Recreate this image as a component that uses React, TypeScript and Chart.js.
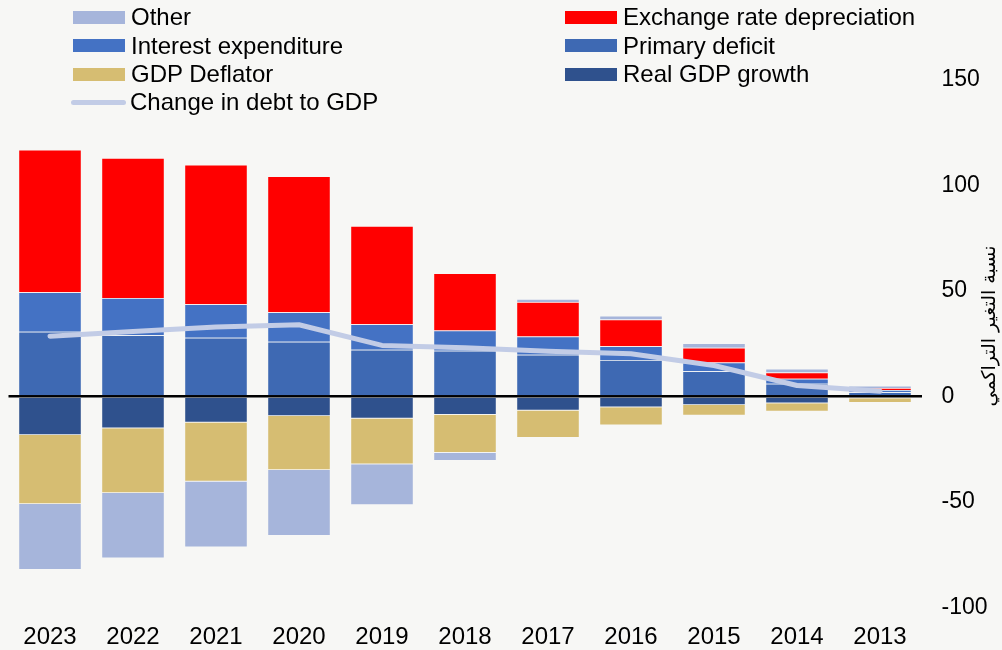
import React, { useEffect, useRef } from "react";
import { Chart, registerables } from "chart.js";

Chart.register(...registerables);

const years = ["2023", "2022", "2021", "2020", "2019", "2018", "2017", "2016", "2015", "2014", "2013"];
const primaryDeficit = [30.7, 29.0, 27.8, 26.0, 22.2, 21.7, 19.8, 17.3, 12.0, 6.0, 2.0];
const realGdpGrowth = [-18.2, -15.0, -12.3, -9.3, -10.4, -8.7, -6.6, -5.1, -4.0, -3.2, -0.8];
const interestExpenditure = [18.7, 17.7, 15.9, 13.9, 12.0, 9.6, 8.6, 6.5, 4.1, 2.4, 1.1];
const gdpDeflator = [-32.7, -30.7, -28.0, -25.5, -21.7, -17.9, -13.0, -8.5, -5.0, -3.9, -2.2];
const exchangeRate = [67.5, 66.3, 66.1, 64.5, 46.6, 27.1, 16.4, 12.7, 7.0, 3.0, 0.9];
const other = [-31.2, -31.0, -31.2, -31.2, -19.3, -3.8, 1.4, 1.8, 2.1, 1.8, 1.1];
const changeInDebt = [28.6, 30.8, 32.9, 34.0, 24.2, 23.1, 21.5, 20.3, 14.7, 5.2, 2.5];
const yTicks = [150, 100, 50, 0, -50, -100];
const axisTitle = "نسبة التغير التراكمي";

const C_OTHER = "#A6B5DB";
const C_EXCH = "#FF0000";
const C_INT = "#4472C4";
const C_PRIM = "#3E69B3";
const C_REAL = "#2F518D";
const C_DEFL = "#D6BD72";
const C_LINE = "#C2CCE6";
const BG = "#F7F7F5";
const FONT = '"Liberation Sans", Arial, sans-serif';

const legendItems = [
  { label: "Other", color: C_OTHER, x: 73, y: 17, type: "box" },
  { label: "Exchange rate depreciation", color: C_EXCH, x: 565, y: 17, type: "box" },
  { label: "Interest expenditure", color: C_INT, x: 73, y: 45.5, type: "box" },
  { label: "Primary deficit", color: C_PRIM, x: 565, y: 45.5, type: "box" },
  { label: "GDP Deflator", color: C_DEFL, x: 73, y: 74, type: "box" },
  { label: "Real GDP growth", color: C_REAL, x: 565, y: 74, type: "box" },
  { label: "Change in debt to GDP", color: C_LINE, x: 73, y: 102, type: "line" },
];

const titlePlugin = {
  id: "rightTitle",
  afterDraw(chart: any) {
    const ctx = chart.ctx;
    ctx.save();
    ctx.translate(990, 326);
    ctx.rotate(-Math.PI / 2);
    ctx.textAlign = "center";
    ctx.textBaseline = "middle";
    ctx.fillStyle = "#000";
    ctx.font = '19px "DejaVu Sans", sans-serif';
    ctx.fillText(axisTitle, 0, 0);
    ctx.restore();
  },
};

export default function App() {
  const ref = useRef<HTMLCanvasElement | null>(null);

  useEffect(() => {
    if (!ref.current) return;
    const barDs = (label: string, data: number[], color: string) => ({
      type: "bar" as const,
      label,
      data,
      backgroundColor: color,
      borderColor: "rgba(255,255,255,0.18)",
      borderWidth: 0.75,
      stack: "bars",
      order: 1,
    });
    const chart = new Chart(ref.current, {
      type: "bar",
      data: {
        labels: years,
        datasets: [
          {
            type: "line" as const,
            label: "Change in debt to GDP",
            data: changeInDebt,
            borderColor: C_LINE,
            backgroundColor: C_LINE,
            borderWidth: 5,
            pointRadius: 0,
            tension: 0,
            borderCapStyle: "round",
            borderJoinStyle: "round",
            stack: "line",
            order: 0,
          } as any,
          barDs("Primary deficit", primaryDeficit, C_PRIM),
          barDs("Real GDP growth", realGdpGrowth, C_REAL),
          barDs("Interest expenditure", interestExpenditure, C_INT),
          barDs("GDP Deflator", gdpDeflator, C_DEFL),
          barDs("Exchange rate depreciation", exchangeRate, C_EXCH),
          barDs("Other", other, C_OTHER),
        ],
      },
      options: {
        animation: false,
        responsive: false,
        maintainAspectRatio: false,
        layout: { padding: { left: 8.5, top: 80, right: 0, bottom: 0 } },
        datasets: { bar: { categoryPercentage: 1, barPercentage: 0.76 } },
        plugins: { legend: { display: false }, tooltip: { enabled: false } },
        scales: {
          x: {
            stacked: true,
            offset: true,
            grid: { display: false, drawTicks: false },
            border: { display: false },
            ticks: {
              color: "#000",
              font: { family: FONT, size: 24 },
              padding: 15,
              maxRotation: 0,
              autoSkip: false,
            },
            afterFit: (s: any) => {
              s.height = 42.5;
            },
          },
          y: {
            position: "right",
            stacked: true,
            min: -100,
            max: 150,
            afterBuildTicks: (s: any) => {
              s.ticks = yTicks.map((v) => ({ value: v }));
            },
            grid: {
              drawTicks: false,
              color: (c: any) => (c.tick && c.tick.value === 0 ? "#000" : "rgba(0,0,0,0)"),
              lineWidth: (c: any) => (c.tick && c.tick.value === 0 ? 2.5 : 0),
            },
            border: { display: false },
            ticks: {
              color: "#000",
              font: { family: FONT, size: 23 },
              padding: 20,
            },
            afterFit: (s: any) => {
              s.width = 80.5;
            },
          },
        },
      },
      plugins: [titlePlugin],
    } as any);
    return () => chart.destroy();
  }, []);

  return (
    <div style={{ position: "fixed", left: 0, top: 0, width: 1002, height: 650, background: BG, overflow: "hidden" }}>
      <canvas ref={ref} width={1002} height={650} style={{ position: "absolute", left: 0, top: 0, width: 1002, height: 650 }} />
      {legendItems.map((it) => (
        <div
          key={it.label}
          style={{
            position: "absolute",
            left: it.x,
            top: it.y - 15,
            height: 30,
            display: "flex",
            alignItems: "center",
            fontFamily: FONT,
            fontSize: 24,
            color: "#000",
            whiteSpace: "nowrap",
          }}
        >
          {it.type === "box" ? (
            <span style={{ display: "inline-block", width: 52, height: 13, background: it.color, marginRight: 6 }} />
          ) : (
            <span style={{ display: "inline-block", width: 55, height: 5, borderRadius: 3, background: it.color, marginRight: 4, marginLeft: -2 }} />
          )}
          <span>{it.label}</span>
        </div>
      ))}
    </div>
  );
}
